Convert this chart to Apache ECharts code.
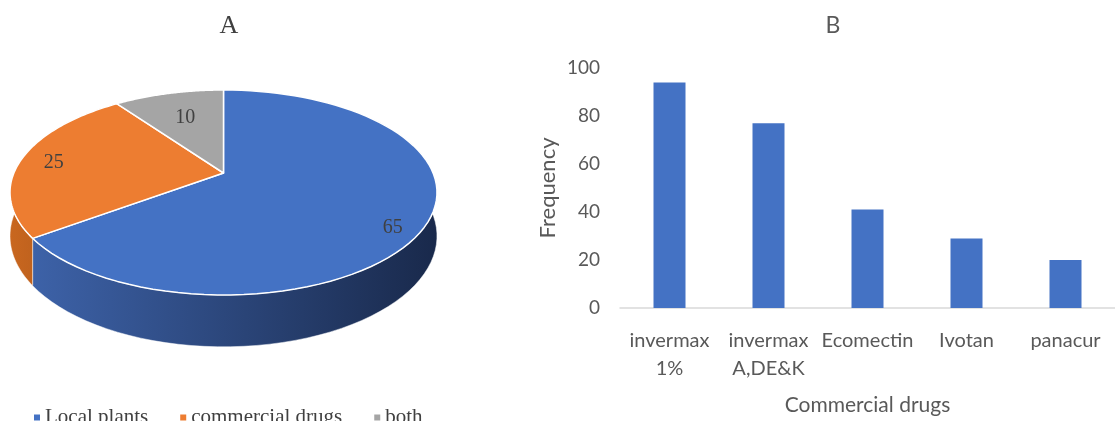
<!DOCTYPE html>
<html>
<head>
<meta charset="utf-8">
<script src="https://cdn.jsdelivr.net/npm/echarts@6/dist/echarts.min.js"></script>
<style>
html,body{margin:0;padding:0;background:#fff;}
#chart{width:1115px;height:421px;}
</style>
</head>
<body>
<div id="chart"></div>
<script>
// ---- data ----
const pieNames = ['Local plants', 'commercial drugs', 'both'];
const pieValues = [65, 25, 10];
const barCategories = ['invermax\n1%', 'invermax\nA,DE&K', 'Ecomectin', 'Ivotan', 'panacur'];
const barValues = [94, 77, 41, 29, 20];
const yMin = 0, yMax = 100, yInterval = 20;

// ---- styling ----
const faceColors = ['#4472C4', '#ED7D31', '#A5A5A5'];
const wallColors = [['#3d62a8', '#19294b'], ['#c9671f', '#a0501a'], ['#8a8a8a', '#6e6e6e']];
const labelR = [0.84, 0.84, 0.66];
const labelDy = [14, 2, 0];

// pie perspective geometry
const CX = 223.5, CY = 173, PA = 65.9, PC = -0.19, PR = 209.6, DEPTH = 42;
function proj(u, v) {
  const d = 1 + PC * v;
  return [CX + PR * u / d, (PA * v + CY) / d];
}
const total = pieValues.reduce((a, b) => a + b, 0);

function makeRender(idx) {
  return function (params, api) {
    let cum = 0;
    for (let k = 0; k < idx; k++) cum += pieValues[k];
    const val = api.value(0);
    const a0 = cum / total * Math.PI * 2;
    const a1 = (cum + val) / total * Math.PI * 2;
    const N = 80;
    const arcTop = [], arcBot = [];
    for (let s = 0; s <= N; s++) {
      const phi = a0 + (a1 - a0) * s / N;
      const u = Math.sin(phi), v = -Math.cos(phi);
      const p = proj(u, v);
      arcTop.push(p);
      arcBot.push([p[0], p[1] + DEPTH / (1 + PC * v)]);
    }
    const apex = proj(0, 0);
    const face = [apex].concat(arcTop);
    const wall = arcTop.concat(arcBot.slice().reverse());
    const mid = (a0 + a1) / 2;
    const lf = labelR[idx];
    const lp = proj(lf * Math.sin(mid), -lf * Math.cos(mid));
    return {
      type: 'group',
      children: [
        {
          type: 'polygon', z2: 1,
          shape: { points: wall },
          style: {
            fill: new echarts.graphic.LinearGradient(0, 0, 1, 0, [
              { offset: 0, color: wallColors[idx][0] },
              { offset: 1, color: wallColors[idx][1] }
            ]),
            stroke: 'rgba(255,255,255,0.6)', lineWidth: 0.8
          }
        },
        {
          type: 'polygon', z2: 10,
          shape: { points: face },
          style: { fill: faceColors[idx], stroke: '#ffffff', lineWidth: 1.5, lineJoin: 'round' }
        },
        {
          type: 'text', z2: 20,
          style: {
            text: String(val), x: lp[0], y: lp[1] + labelDy[idx],
            align: 'center', verticalAlign: 'middle',
            font: '20px "Liberation Serif", serif', fill: '#404040'
          }
        }
      ]
    };
  };
}

const pieSeries = pieNames.map((name, i) => ({
  type: 'custom',
  name: name,
  coordinateSystem: 'none',
  itemStyle: { color: faceColors[i] },
  silent: true,
  data: [[pieValues[i]]],
  renderItem: makeRender(i)
}));

const option = {
  animation: false,
  backgroundColor: '#ffffff',
  title: [
    { text: 'A', left: 224, top: 8, textAlign: 'center',
      textStyle: { fontFamily: 'Liberation Serif', fontWeight: 'normal', fontSize: 26, color: '#404040' } },
    { text: 'B', left: 828, top: 9, textAlign: 'center',
      textStyle: { fontFamily: 'Lato', fontWeight: 'normal', fontSize: 23, color: '#595959' } }
  ],
  legend: {
    data: pieNames,
    left: 29, top: 402,
    icon: 'rect', itemWidth: 6, itemHeight: 6, itemGap: 32,
    textStyle: { fontFamily: 'Liberation Serif', fontSize: 21, color: '#404040', padding: [0, 0, 0, 0] }
  },
  grid: { left: 620, right: -13, top: 68, bottom: 111, containLabel: false },
  xAxis: {
    type: 'category',
    data: barCategories,
    axisLine: { lineStyle: { color: '#D9D9D9', width: 1.5 } },
    axisTick: { show: false },
    axisLabel: { color: '#595959', fontFamily: 'Lato', fontSize: 20, lineHeight: 28, margin: 19, interval: 0 },
    name: 'Commercial drugs',
    nameLocation: 'middle', nameGap: 87,
    nameTextStyle: { color: '#595959', fontFamily: 'Lato', fontSize: 21 }
  },
  yAxis: {
    type: 'value', min: yMin, max: yMax, interval: yInterval,
    splitLine: { show: false },
    axisLine: { show: false }, axisTick: { show: false },
    axisLabel: { color: '#595959', fontFamily: 'Lato', fontSize: 19, margin: 20 },
    name: 'Frequency', nameLocation: 'middle', nameGap: 61,
    nameTextStyle: { color: '#595959', fontFamily: 'Lato', fontSize: 22 }
  },
  series: pieSeries.concat([{
    type: 'bar',
    name: 'Frequency',
    data: barValues,
    barWidth: 32,
    itemStyle: { color: '#4472C4' },
    silent: true
  }])
};

const chart = echarts.init(document.getElementById('chart'), null, { renderer: 'canvas' });
chart.setOption(option);
</script>
</body>
</html>
